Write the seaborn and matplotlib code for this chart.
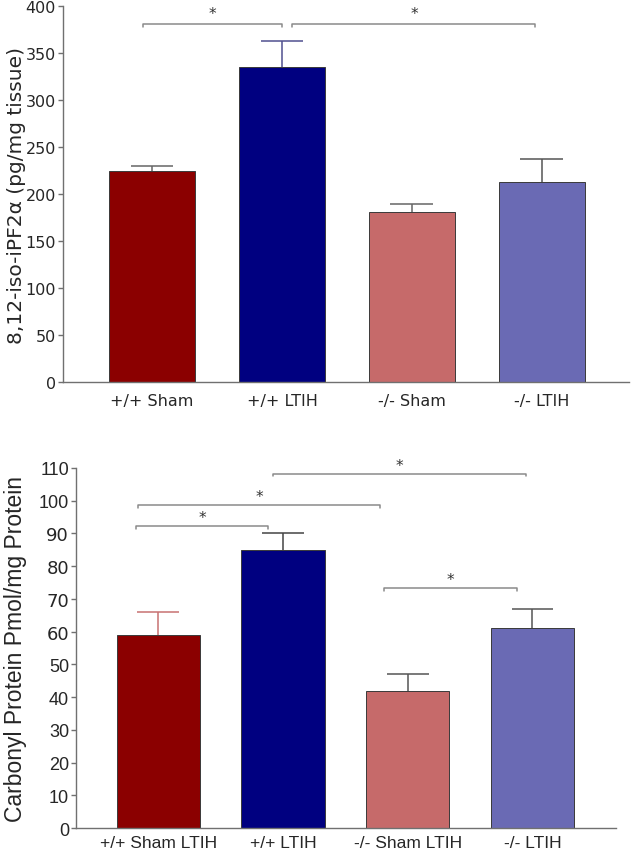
import numpy as np
import pandas as pd
import matplotlib
matplotlib.use("Agg")
import matplotlib.pyplot as plt
import seaborn as sns

sns.set_style("white")

# top panel: isoprostane
iso_groups = ["+/+ Sham", "+/+ LTIH", "-/- Sham", "-/- LTIH"]
iso_mean = [225, 335, 181, 213]
iso_sem = [5, 28, 9, 25]

# bottom panel: carbonyl protein
carb_groups = ["+/+ Sham LTIH", "+/+ LTIH", "-/- Sham LTIH", "-/- LTIH"]
carb_mean = [59, 85, 42, 61]
carb_sem = [7, 5, 5, 6]

bar_colors = ["#8b0000", "#000080", "#c66a6a", "#6a6ab4"]
err_colors_top = ["#666666", "#50508f", "#666666", "#555555"]
err_colors_bot = ["#c87272", "#444444", "#555555", "#555555"]

# significance brackets: (x start, x end, y level)
iso_sig = [(-0.07, 1.0, 381), (1.08, 2.95, 381)]
carb_sig = [(-0.18, 0.88, 92.3), (-0.16, 1.78, 98.8), (0.92, 2.95, 108.3), (1.81, 2.88, 73.3)]

fig = plt.figure(figsize=(6.31, 8.53), dpi=100)
ax1 = fig.add_axes([0.0998, 0.5506, 0.897, 0.4408])
ax2 = fig.add_axes([0.1204, 0.0281, 0.8558, 0.4221])


def draw_panel(ax, groups, mean, sem, err_colors, width, font, ytick_fs, xtick_fs, xpad):
    df = pd.DataFrame({"group": groups, "value": mean})
    sns.barplot(data=df, x="group", y="value", hue="group", palette=bar_colors,
                saturation=1, width=width, edgecolor="#3a3a3a", linewidth=0.7,
                legend=False, errorbar=None, ax=ax, zorder=2)
    half = width / 4
    for i, (m, s) in enumerate(zip(mean, sem)):
        ax.vlines(i, m, m + s, color=err_colors[i], lw=1.1, zorder=1)
        ax.hlines(m + s, i - half, i + half, color=err_colors[i], lw=1.1, zorder=1)
    for spine in ["top", "right"]:
        ax.spines[spine].set_visible(False)
    for spine in ["left", "bottom"]:
        ax.spines[spine].set_color("#707070")
        ax.spines[spine].set_linewidth(1.0)
    ax.tick_params(axis="y", left=True, length=3.5, width=1, color="#707070",
                   labelsize=ytick_fs, pad=1.5)
    ax.tick_params(axis="x", bottom=False, labelsize=xtick_fs, pad=xpad)
    for lab in ax.get_xticklabels() + ax.get_yticklabels():
        lab.set_family(font)
    ax.set_xlabel("")


draw_panel(ax1, iso_groups, iso_mean, iso_sem, err_colors_top, 0.66,
           "DejaVu Sans", 11.5, 11.5, 4)
ax1.set_xlim(-0.685, 3.67)
ax1.set_ylim(0, 400)
ax1.set_yticks(np.arange(0, 401, 50))
ax1.set_ylabel("8,12-iso-iPF2\u03b1 (pg/mg tissue)", fontsize=14.5,
               family="DejaVu Sans")
ax1.yaxis.set_label_coords(-0.066, 0.5)

draw_panel(ax2, carb_groups, carb_mean, carb_sem, err_colors_bot, 0.67,
           "Liberation Sans", 13, 12.5, 1.5)
ax2.set_xlim(-0.66, 3.67)
ax2.set_ylim(0, 110)
ax2.set_yticks(np.arange(0, 111, 10))
ax2.set_ylabel("Carbonyl Protein Pmol/mg Protein", fontsize=16.5,
               family="Liberation Sans")
ax2.yaxis.set_label_coords(-0.09, 0.5)


def bracket(ax, x0, x1, y, tick, star_off):
    ax.plot([x0, x0, x1, x1], [y - tick, y, y, y - tick], color="#8a8a8a",
            lw=1.1, clip_on=False, zorder=3)
    ax.text((x0 + x1) / 2, y + star_off, "*", ha="center", va="center",
            fontsize=11, color="#333333", clip_on=False)


for x0, x1, y in iso_sig:
    bracket(ax1, x0, x1, y, 3, 11)
for x0, x1, y in carb_sig:
    bracket(ax2, x0, x1, y, 0.9, 2.6)

fig.savefig("out.png", dpi=100)
